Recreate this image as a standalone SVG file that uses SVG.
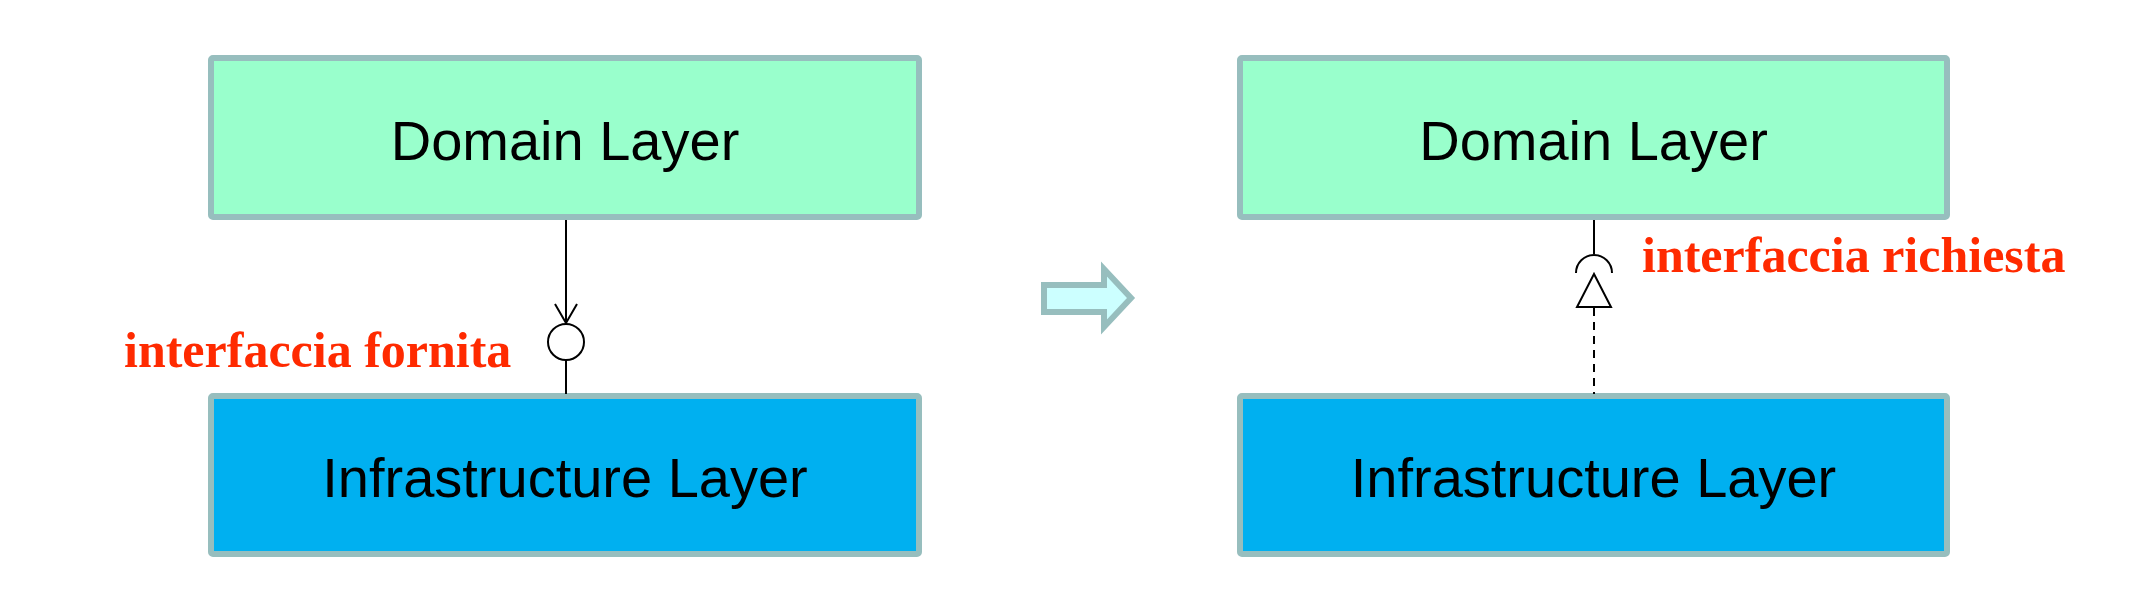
<svg xmlns="http://www.w3.org/2000/svg" width="2144" height="610" viewBox="0 0 2144 610">
<defs>
<style>
.box{stroke:#97BEBE;stroke-width:6}
.dom{fill:#99FFCC}
.inf{fill:#00B0F0}
.lbl{font-family:"Liberation Sans",Arial,sans-serif;font-size:56px;fill:#000;text-anchor:middle}
.note{font-family:"Liberation Serif","Times New Roman",serif;font-weight:bold;font-size:50px;fill:#FF2A00}
.ln{stroke:#000;stroke-width:2;fill:none}
</style>
</defs>
<rect width="2144" height="610" fill="#fff"/>
<g id="domain-left">
<rect class="box dom" x="211" y="58" width="708" height="159" rx="2"/>
<text class="lbl" x="565" y="160">Domain Layer</text>
</g>
<g id="infra-left">
<rect class="box inf" x="211" y="396" width="708" height="158" rx="2"/>
<text class="lbl" x="565" y="497">Infrastructure Layer</text>
</g>
<g id="domain-right">
<rect class="box dom" x="1240" y="58" width="707" height="159" rx="2"/>
<text class="lbl" x="1593.5" y="160">Domain Layer</text>
</g>
<g id="infra-right">
<rect class="box inf" x="1240" y="396" width="707" height="158" rx="2"/>
<text class="lbl" x="1593.5" y="497">Infrastructure Layer</text>
</g>
<g id="transform-arrow">
<polygon points="1044,285 1104,285 1104,269 1131,298 1104,327 1104,312 1044,312" fill="#CCFFFF" stroke="#97BEBE" stroke-width="6"/>
</g>
<g id="connectors">
<line class="ln" x1="566" y1="220" x2="566" y2="323"/>
<polyline class="ln" points="555,304 566,323 577,304"/>
<circle class="ln" cx="566" cy="342" r="18"/>
<line class="ln" x1="566" y1="360" x2="566" y2="394"/>
<line class="ln" x1="1594" y1="220" x2="1594" y2="254"/>
<path class="ln" d="M1576,273 A18,18 0 0 1 1612,273"/>
<polygon class="ln" points="1594,274 1577,307 1611,307" fill="#fff"/>
<line class="ln" x1="1594" y1="308" x2="1594" y2="394" stroke-dasharray="8,6"/>
</g>
<g id="labels">
<text class="note" x="124" y="367">interfaccia fornita</text>
<text class="note" x="1642" y="272">interfaccia richiesta</text>
</g>
</svg>
